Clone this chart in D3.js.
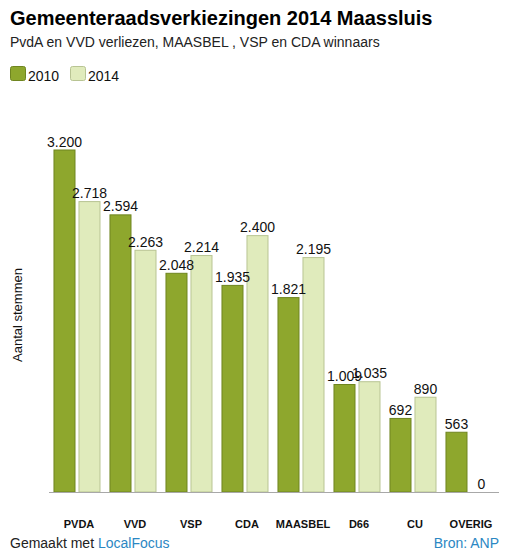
<!DOCTYPE html>
<html lang="nl">
<head>
<meta charset="UTF-8">
<title>Gemeenteraadsverkiezingen 2014 Maassluis</title>
<style>
	* {padding:0; margin:0;}
	body {background:#fff; font-family:"Liberation Sans", Arial, sans-serif;}
	#chart {display:block;}
	.title {font-size:20px; font-weight:bold; fill:#000;}
	.subtitle {font-size:14px; fill:#222;}
	.legendText {font-size:14px; fill:#111;}
	.barNum {font-size:14px; text-anchor:middle; fill:#111;}
	.catLabel {font-size:11px; font-weight:bold; text-anchor:middle; fill:#111;}
	.yLabel {font-size:13px; text-anchor:middle; fill:#111;}
	.footer {font-size:14px; fill:#222;}
	.link {fill:#2b87c3;}
</style>
</head>
<body>
<script src="https://cdn.jsdelivr.net/npm/d3@7"></script>
<svg id="chart" width="505" height="558"></svg>
<script>
// data
var categories = ["PVDA", "VVD", "VSP", "CDA", "MAASBEL", "D66", "CU", "OVERIG"];
var years = ["2010", "2014"];
var votes2010 = [3200, 2594, 2048, 1935, 1821, 1009, 692, 563];
var votes2014 = [2718, 2263, 2214, 2400, 2195, 1035, 890, 0];

var colors = {"2010": "#8ea72d", "2014": "#e0ebbc"};
var strokes = {"2010": "#6f8520", "2014": "#b8c493"};

var svg = d3.select("#chart");
var nl = d3.formatLocale({decimal: ",", thousands: ".", grouping: [3], currency: ["€", ""]});
var fmt = nl.format(",d");

// titels
svg.append("text").attr("class", "title").attr("x", 10).attr("y", 25)
	.text("Gemeenteraadsverkiezingen 2014 Maassluis");
svg.append("text").attr("class", "subtitle").attr("x", 10).attr("y", 47)
	.text("PvdA en VVD verliezen, MAASBEL , VSP en CDA winnaars");

// legenda
var legend = svg.selectAll("g.legend").data(years).enter()
	.append("g").attr("class", "legend")
	.attr("transform", function(d, i){ return "translate(" + (10 + i * 60) + ",66)"; });
legend.append("rect")
	.attr("x", 0.5).attr("y", 0.5).attr("width", 15).attr("height", 14)
	.attr("rx", 2).attr("ry", 2)
	.attr("fill", function(d){ return colors[d]; })
	.attr("stroke", function(d){ return strokes[d]; });
legend.append("text").attr("class", "legendText")
	.attr("x", 18).attr("y", 14.5)
	.text(function(d){ return d; });

// schalen
var baseY = 492;
var x0 = d3.scaleBand().domain(categories).range([49, 497]).paddingInner(0.16).paddingOuter(0.08);
var x1 = d3.scaleBand().domain(years).range([0, x0.bandwidth()]).paddingInner(0.12);
var y = d3.scaleLinear().domain([0, 3200]).range([baseY, 149.5]);

var rows = categories.map(function(c, i){
	return {cat: c, values: [{year: "2010", v: votes2010[i]}, {year: "2014", v: votes2014[i]}]};
});

var groups = svg.selectAll("g.group").data(rows).enter()
	.append("g").attr("class", "group")
	.attr("transform", function(d){ return "translate(" + x0(d.cat) + ",0)"; });

groups.selectAll("rect").data(function(d){ return d.values; }).enter()
	.append("rect")
	.filter(function(d){ return d.v > 0; })
	.attr("x", function(d){ return Math.round(x1(d.year)) + 0.5; })
	.attr("y", function(d){ return y(d.v) + 0.5; })
	.attr("width", x1.bandwidth() - 1)
	.attr("height", function(d){ return baseY - y(d.v) - 0.5; })
	.attr("fill", function(d){ return colors[d.year]; })
	.attr("stroke", function(d){ return strokes[d.year]; });

groups.selectAll("text").data(function(d){ return d.values; }).enter()
	.append("text").attr("class", "barNum")
	.attr("x", function(d){ return Math.round(x1(d.year)) + x1.bandwidth() / 2; })
	.attr("y", function(d){ return y(d.v) - 3; })
	.text(function(d){ return fmt(d.v); });

// as
svg.append("line")
	.attr("x1", 49).attr("x2", 499).attr("y1", baseY + 0.5).attr("y2", baseY + 0.5)
	.attr("stroke", "#a8a8a8").attr("stroke-width", 1);

svg.selectAll("text.catLabel").data(categories).enter()
	.append("text").attr("class", "catLabel")
	.attr("x", function(d){ return x0(d) + x0.bandwidth() / 2 + 2; })
	.attr("y", 528)
	.text(function(d){ return d; });

svg.append("text").attr("class", "yLabel")
	.attr("transform", "translate(22,315) rotate(-90)")
	.text("Aantal stemmen");

// voettekst
var foot = svg.append("text").attr("class", "footer").attr("x", 10).attr("y", 548);
foot.append("tspan").text("Gemaakt met ");
foot.append("tspan").attr("class", "link").text("LocalFocus");
svg.append("text").attr("class", "footer link").attr("x", 499).attr("y", 548)
	.attr("text-anchor", "end").text("Bron: ANP");
</script>
</body>
</html>
